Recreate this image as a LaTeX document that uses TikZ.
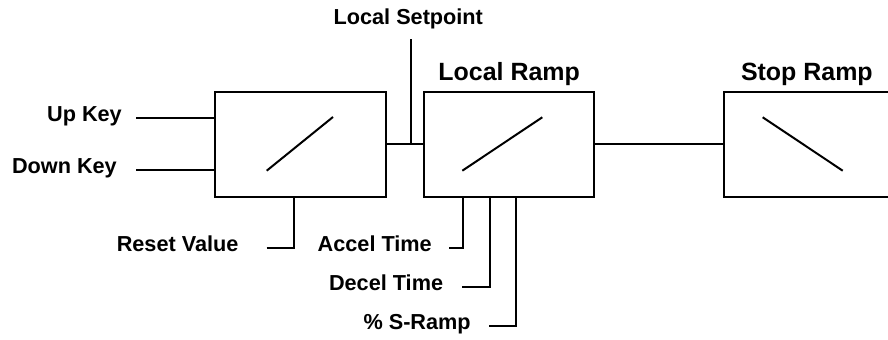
\documentclass[tikz,border=0pt]{standalone}
\usepackage{fontspec}
\setmainfont{Liberation Sans}
\usetikzlibrary{positioning,calc}

\begin{document}
\begin{tikzpicture}[
  x=0.03cm, y=-0.03cm,
  rampbox/.style={draw=black, line width=1.7pt, minimum width=5.115cm,
                  minimum height=3.15cm, inner sep=0pt, outer sep=0pt},
  inlabel/.style={font=\bfseries\fontsize{18.5}{22}\selectfont,
                  text height=13.3pt, text depth=7.4pt,
                  inner ysep=0pt, inner xsep=#1, anchor=east},
  toplabel/.style={font=\bfseries\fontsize{18.5}{22}\selectfont,
                   text height=13.3pt, text depth=7.4pt,
                   inner ysep=4.8pt, anchor=south},
  title/.style={font=\bfseries\fontsize{21.3}{25}\selectfont, inner sep=5pt},
  wire/.style={line width=1.7pt, black},
]
\useasboundingbox (0,0) rectangle (888,340);
\clip (0,0) rectangle (888,340);

% Boxes
\node[rampbox] (keys) at (300.3,144.2) {};
\node[rampbox] (localramp) at (509.2,144.2) {};
\node[rampbox] (stopramp) at (809.2,144.2) {};

% Titles
\node[title, above=0pt of localramp] (lrtitle) {Local Ramp};
\node[title, above=0pt of stopramp, xshift=-0.07cm] (srtitle) {Stop Ramp};

% Inputs
\node[inlabel=11.9pt] (upkey) at (136,117.7) {Up Key};
\node[inlabel=16.2pt] (downkey) at (136,170.3) {Down Key};
\node[inlabel=23.9pt] (resetval) at (266.7,248.3) {Reset Value};
\node[inlabel=14.5pt] (acceltime) at (449,248.3) {Accel Time};
\node[inlabel=16.2pt] (deceltime) at (462.3,286.7) {Decel Time};
\node[inlabel=15.4pt] (sramp) at (489,325.7) {\% S-Ramp};
\node[toplabel] (setpoint) at (408.3,39.3) {Local Setpoint};

% Ramp signs
\draw[wire] ([shift={(-33.6,26.5)}]keys.center) -- ([shift={(32.7,-27.2)}]keys.center);
\draw[wire] ([shift={(-46.9,26.5)}]localramp.center) -- ([shift={(33.1,-26.9)}]localramp.center);
\draw[wire] ([shift={(-46.5,-26.9)}]stopramp.center) -- ([shift={(33.5,26.5)}]stopramp.center);

% Edges
\coordinate (spjoin) at ($(keys.east)!0.66!(localramp.west)$);
\draw[wire] (upkey.east) -- (upkey.east -| keys.west);
\draw[wire] (downkey.east) -- (downkey.east -| keys.west);
\draw[wire] (keys.east) -- (localramp.west);
\draw[wire] (localramp.east) -- (stopramp.west);
\draw[wire] (setpoint.south -| spjoin) -- (spjoin);
\draw[wire] (resetval.east) -| ([xshift=-0.198cm]keys.south);
\draw[wire] (acceltime.east) -| ([xshift=1.18cm]localramp.south west);
\draw[wire] (deceltime.east) -| ([xshift=1.971cm]localramp.south west);
\draw[wire] (sramp.east) -| ([xshift=2.76cm]localramp.south west);

\end{tikzpicture}
\end{document}
